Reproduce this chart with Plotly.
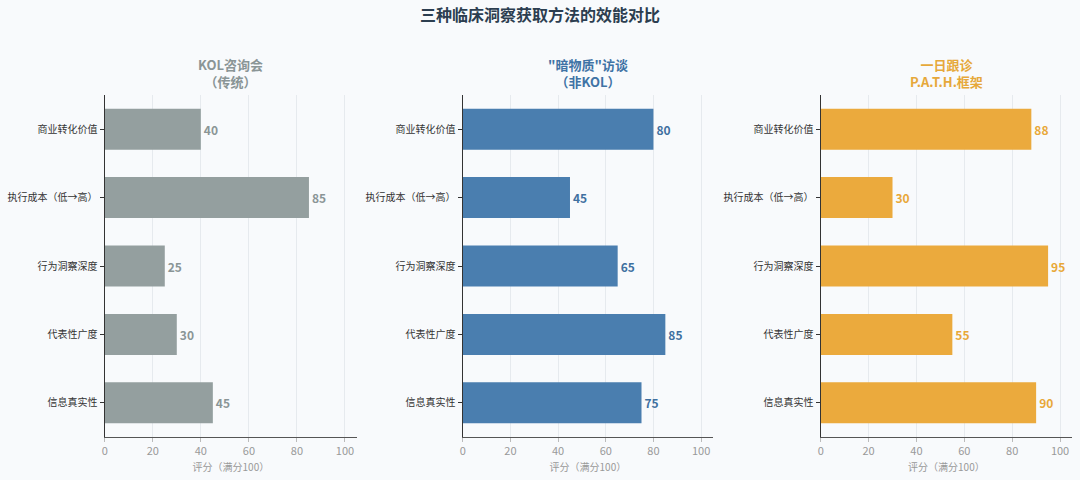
import plotly.graph_objects as go

categories = ["商业转化价值", "执行成本（低→高）", "行为洞察深度", "代表性广度", "信息真实性"]
method_titles = ["KOL咨询会<br>（传统）", "\"暗物质\"访谈<br>（非KOL）", "一日跟诊<br>P.A.T.H.框架"]
kol_scores = [40, 85, 25, 30, 45]
dark_matter_scores = [80, 45, 65, 85, 75]
path_scores = [88, 30, 95, 55, 90]

bar_colors = ["#949f9f", "#4a7eaf", "#ebaa3d"]
label_colors = ["#8a9596", "#3f70a0", "#e8a838"]
title_colors = ["#8a9596", "#3f73a5", "#e6a83a"]

W, H = 1080, 480
x_domains = [(102 / W, 355 / W), (461 / W, 712 / W), (820 / W, 1072 / W)]
y_domain = (1 - 437 / H, 1 - 95 / H)

font = "Noto Sans CJK SC"
fig = go.Figure()

for i, scores in enumerate([kol_scores, dark_matter_scores, path_scores]):
    n = "" if i == 0 else str(i + 1)
    fig.add_trace(go.Bar(
        x=scores, y=categories, orientation="h",
        xaxis="x" + n, yaxis="y" + n,
        marker=dict(color=bar_colors[i], line=dict(width=0)),
        width=0.6,
        text=[str(v) for v in scores], textposition="outside",
        textfont=dict(color=label_colors[i], size=12, family=font, weight="bold"),
        cliponaxis=False, showlegend=False,
    ))
    fig.update_layout(**{
        "xaxis" + n: dict(
            domain=x_domains[i], anchor="y" + n, range=[0, 105],
            tickvals=[0, 20, 40, 60, 80, 100],
            showgrid=True, gridcolor="#e6eaee", gridwidth=1,
            showline=True, linecolor="#555", linewidth=1.2,
            ticks="outside", ticklen=4, tickcolor="#bbb",
            tickfont=dict(size=11, color="#999", family=font),
            title=dict(text="评分（满分100）", font=dict(size=10, color="#999", family=font), standoff=6),
            zeroline=False,
        ),
        "yaxis" + n: dict(
            domain=y_domain, anchor="x" + n,
            categoryorder="array", categoryarray=categories[::-1],
            showline=True, linecolor="#333", linewidth=1.2,
            ticks="outside", ticklen=4, tickcolor="#333",
            tickfont=dict(size=10, color="#333", family=font),
            showgrid=False,
        ),
    })
    fig.add_annotation(
        x=(x_domains[i][0] + x_domains[i][1]) / 2, y=1 - 73 / H,
        xref="paper", yref="paper", showarrow=False,
        xanchor="center", yanchor="middle",
        text="<b>" + method_titles[i] + "</b>",
        font=dict(size=13, color=title_colors[i], family=font),
        align="center",
    )

fig.update_layout(
    width=W, height=H,
    margin=dict(l=0, r=0, t=0, b=0),
    paper_bgcolor="#f8fafc", plot_bgcolor="#f8fafc",
    title=dict(text="<b>三种临床洞察获取方法的效能对比</b>", x=0.5, y=1 - 15 / H,
               xanchor="center", yanchor="middle",
               font=dict(size=16, color="#2c3e50", family=font)),
    bargap=0.4,
)

fig.write_html("out.html", config={"displayModeBar": False},
               post_script="document.body.style.margin='0';document.body.style.overflow='hidden';")
